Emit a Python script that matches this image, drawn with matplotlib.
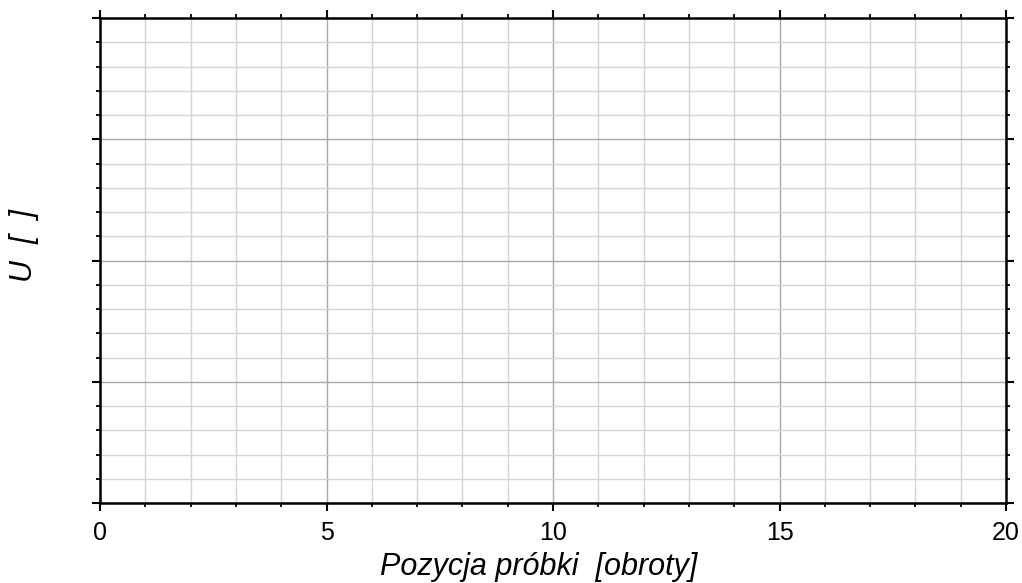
import matplotlib
matplotlib.use("Agg")
import matplotlib.pyplot as plt
from matplotlib.ticker import MultipleLocator, NullFormatter

x_limits = [0, 20]
y_limits = [0, 4]
x_major_step = 5
x_minor_step = 1
y_major_step = 1
y_minor_step = 0.2
x_label = "Pozycja próbki  [obroty]"
y_label = "U  [  ]"

plt.rcParams['font.family'] = ['Liberation Sans', 'DejaVu Sans']

W, H = 1022, 583
fig = plt.figure(figsize=(W/100, H/100), dpi=100)
ax = fig.add_axes([100/W, 1 - 503/H, 906/W, 485/H])
ax.set_xlim(*x_limits)
ax.set_ylim(*y_limits)
ax.xaxis.set_major_locator(MultipleLocator(x_major_step))
ax.xaxis.set_minor_locator(MultipleLocator(x_minor_step))
ax.yaxis.set_major_locator(MultipleLocator(y_major_step))
ax.yaxis.set_minor_locator(MultipleLocator(y_minor_step))
ax.yaxis.set_major_formatter(NullFormatter())

ax.grid(which='major', color='#a8a8a8', linewidth=1.0)
ax.grid(which='minor', color='#d4d4d4', linewidth=1.0)
ax.set_axisbelow(True)

for s in ax.spines.values():
    s.set_linewidth(1.8)
    s.set_color('black')

ax.tick_params(which='both', direction='out', top=True, right=True, color='black')
ax.tick_params(which='major', length=6, width=1.5, labelsize=18, pad=7)
ax.tick_params(which='minor', length=3, width=1.3)

ax.set_xlabel(x_label, fontsize=22, style='italic')
ax.xaxis.label.set_va('baseline')
ax.xaxis.set_label_coords((539 - 100)/906, (503 - 575)/485)

ax.set_ylabel(y_label, fontsize=22, style='italic')
ax.yaxis.label.set_va('center')
ax.yaxis.set_label_coords((24 - 100)/906, (503 - 246)/485)

fig.savefig("out.png", dpi=100)
